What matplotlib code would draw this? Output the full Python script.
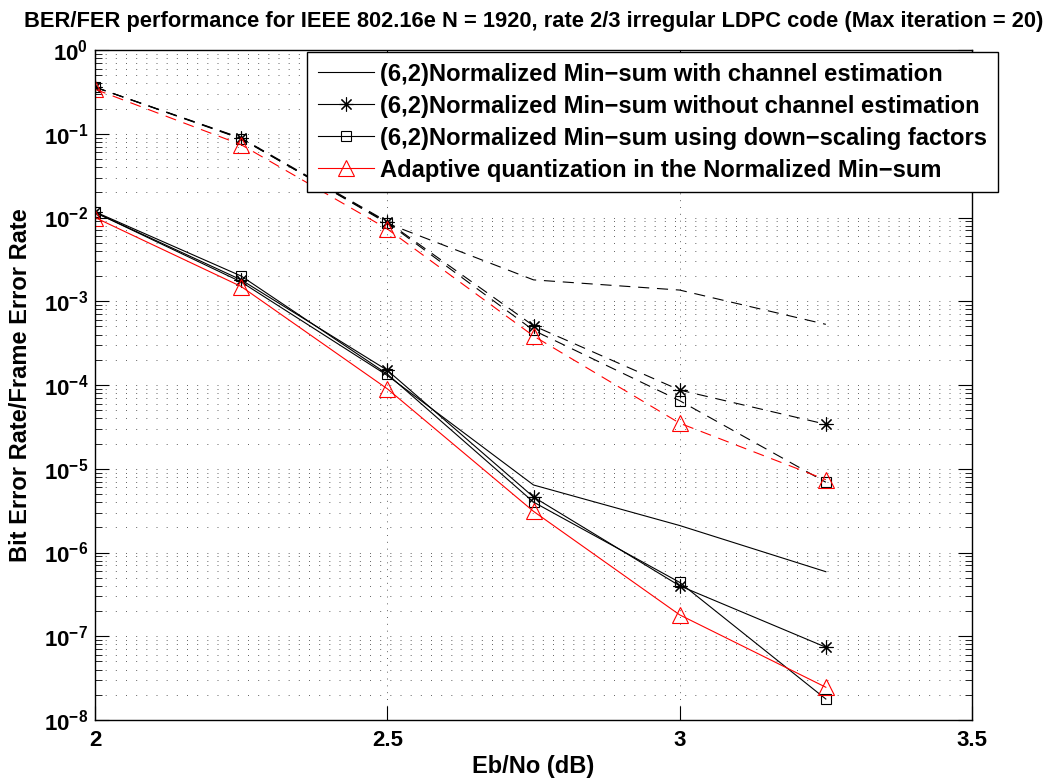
import matplotlib

matplotlib.use("Agg")
import matplotlib.pyplot as plt
import numpy as np
from matplotlib.ticker import FixedLocator, LogLocator, NullFormatter

plt.rcParams["font.family"] = ["Liberation Sans", "DejaVu Sans"]
plt.rcParams["font.weight"] = "bold"
plt.rcParams["mathtext.fontset"] = "custom"
plt.rcParams["mathtext.rm"] = "Liberation Sans:bold"
plt.rcParams["mathtext.bf"] = "Liberation Sans:bold"

# Eb/No points (dB)
ebno = [2.0, 2.25, 2.5, 2.75, 3.0, 3.25]

# BER curves (solid)
ber_chan_est = [1.15e-2, 1.7e-3, 1.3e-4, 6.4e-6, 2.1e-6, 5.9e-7]
ber_no_chan_est = [1.15e-2, 1.8e-3, 1.5e-4, 4.6e-6, 4.0e-7, 7.4e-8]
ber_down_scaling = [1.17e-2, 2.0e-3, 1.35e-4, 4.0e-6, 4.4e-7, 1.78e-8]
ber_adaptive = [1.0e-2, 1.5e-3, 9.0e-5, 3.1e-6, 1.8e-7, 2.46e-8]

# FER curves (dashed)
fer_chan_est = [0.36, 8.8e-2, 8.5e-3, 1.8e-3, 1.36e-3, 5.3e-4]
fer_no_chan_est = [0.36, 8.9e-2, 8.9e-3, 5.1e-4, 8.7e-5, 3.4e-5]
fer_down_scaling = [0.36, 8.7e-2, 8.7e-3, 4.5e-4, 6.5e-5, 6.9e-6]
fer_adaptive = [0.34, 7.4e-2, 7.3e-3, 3.85e-4, 3.5e-5, 7.4e-6]

legend_labels = [
    "(6,2)Normalized Min\u2212sum with channel estimation",
    "(6,2)Normalized Min\u2212sum without channel estimation",
    "(6,2)Normalized Min\u2212sum using down\u2212scaling factors",
    "Adaptive quantization in the Normalized Min\u2212sum",
]
title = ("BER/FER performance for IEEE 802.16e N = 1920, rate 2/3 "
         "irregular LDPC code (Max iteration = 20)")

W, H = 1048, 780
AX_L, AX_R, AX_T, AX_B = 95, 972, 50, 720


def fit_fontsize(fig, text, target_px):
    # size a bold label so that its rendered width matches target_px
    t = fig.text(0, 0, text, fontsize=10, fontweight="bold")
    w = t.get_window_extent(fig.canvas.get_renderer()).width
    t.remove()
    return 10 * target_px / w


fig = plt.figure(figsize=(W / 100, H / 100), dpi=100)
ax = fig.add_axes([AX_L / W, 1 - AX_B / H, (AX_R - AX_L) / W, (AX_B - AX_T) / H])

lw = 0.8
star = (8, 2, 0)
styles = [
    dict(color="black", marker=None),
    dict(color="black", marker=star, markersize=10),
    dict(color="black", marker="s", markersize=7.5),
    dict(color="red", marker="^", markersize=11),
]
ber_sets = [ber_chan_est, ber_no_chan_est, ber_down_scaling, ber_adaptive]
fer_sets = [fer_chan_est, fer_no_chan_est, fer_down_scaling, fer_adaptive]

handles = []
for ber, fer, st, label in zip(ber_sets, fer_sets, styles, legend_labels):
    (h,) = ax.semilogy(ebno, ber, linewidth=lw, markerfacecolor="none",
                       markeredgewidth=0.8, label=label, **st)
    handles.append(h)
    (d,) = ax.semilogy(ebno, fer, linewidth=lw, markerfacecolor="none",
                       markeredgewidth=0.8, **st)
    d.set_dashes((10, 7))

ax.set_xlim(2, 3.5)
ax.set_ylim(1e-8, 1e0)
ax.xaxis.set_major_locator(FixedLocator([2, 2.5, 3, 3.5]))
ax.set_xticklabels(["2", "2.5", "3", "3.5"])
ax.yaxis.set_minor_locator(LogLocator(base=10, subs=np.arange(2, 10), numticks=20))
ax.yaxis.set_minor_formatter(NullFormatter())
ax.set_yticks([10.0 ** k for k in range(-8, 1)])
ax.set_yticklabels([r"$\mathbf{10^{%d}}$" % k for k in range(-8, 1)])

ax.tick_params(which="major", direction="in", length=10, width=0.8,
               top=True, right=True, labelsize=16)
ax.tick_params(axis="x", which="major", pad=7)
ax.tick_params(axis="y", which="major", pad=5)
ax.tick_params(which="minor", direction="in", length=5, width=0.6,
               top=True, right=True)
ax.tick_params(axis="x", which="minor", length=0)

ax.grid(True, axis="x", which="major", color="0.3", linewidth=0.6,
        linestyle=(0, (1.2, 7)))
ax.grid(True, axis="y", which="both", color="0.3", linewidth=0.6,
        linestyle=(0, (1.2, 11)))
for sp in ax.spines.values():
    sp.set_linewidth(1.0)
    sp.set_color("black")

ax.set_xlabel("Eb/No (dB)", fontsize=17, fontweight="bold", va="center")
ax.xaxis.set_label_coords(0.5, -(767 - AX_B) / (AX_B - AX_T))
ax.set_ylabel("Bit Error Rate/Frame Error Rate", fontsize=17,
              fontweight="bold", va="center")
ax.yaxis.set_label_coords(-(AX_L - 21) / (AX_R - AX_L), 0.5)

title_size = fit_fontsize(fig, title, 1017)
fig.text((AX_L + AX_R) / 2 / W, 1 - 21 / H, title, ha="center", va="center",
         fontsize=title_size, fontweight="bold")

leg_size = fit_fontsize(fig, legend_labels[2], 606)
leg = ax.legend(handles=handles, loc="upper right",
                bbox_to_anchor=(998 / W, 1 - 52 / H),
                bbox_transform=fig.transFigure, fontsize=leg_size,
                fancybox=False, framealpha=1, edgecolor="black",
                handlelength=2.4, handletextpad=0.25, borderpad=0.45,
                labelspacing=0.38, borderaxespad=0)
leg.get_frame().set_linewidth(1.0)
leg.set_zorder(5)

fig.savefig("out.png", dpi=100)
plt.close(fig)
